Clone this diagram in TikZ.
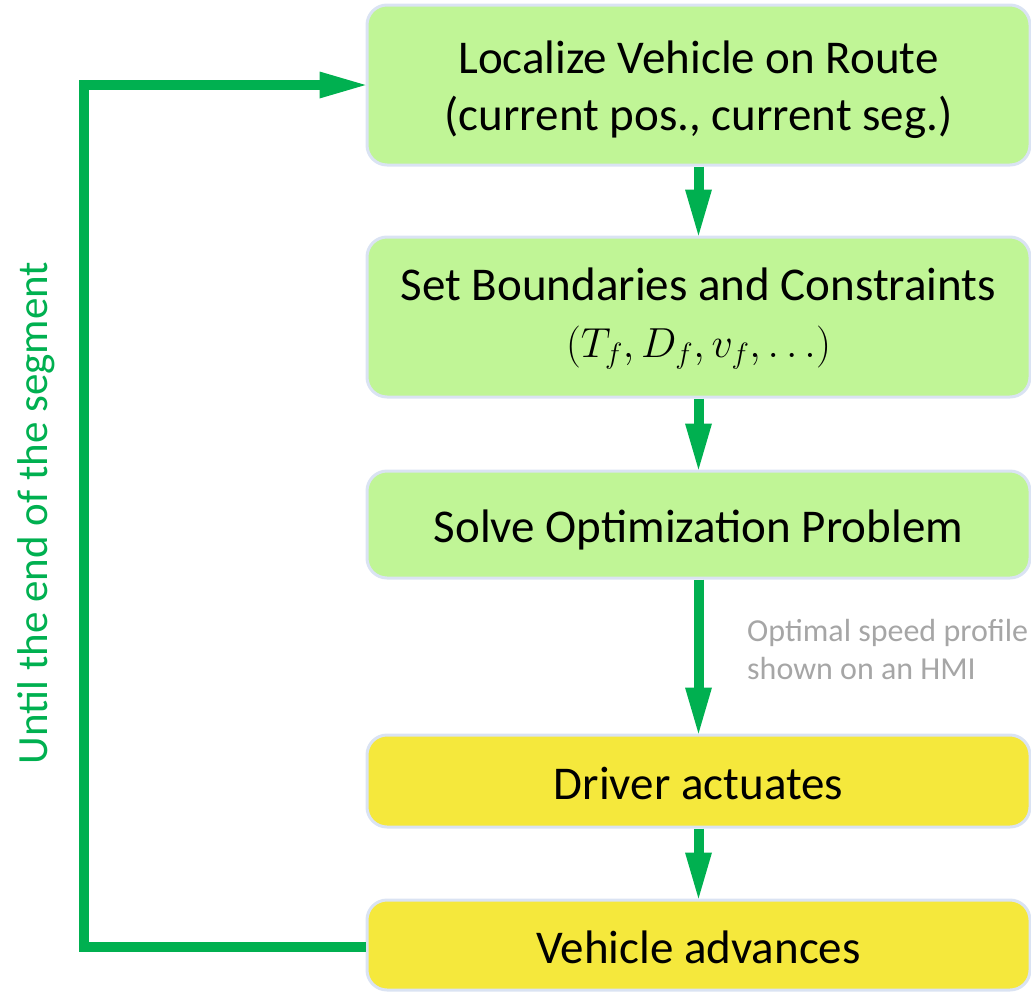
\RequirePackage{fix-cm}
\documentclass[tikz,border=0pt]{standalone}
\usepackage{fontspec}
\setmainfont{Carlito}
\usetikzlibrary{arrows.meta}

\definecolor{flowgreen}{RGB}{0,176,80}
\definecolor{boxgreen}{RGB}{192,245,150}
\definecolor{boxyellow}{RGB}{245,232,60}
\definecolor{boxedge}{RGB}{218,227,243}
\definecolor{notegray}{RGB}{166,166,166}

\tikzset{
  stage/.style={rectangle, rounded corners=20pt, draw=boxedge, line width=3pt,
    minimum width=663pt, inner sep=0pt, align=center, text=black,
    font=\fontsize{47}{57}\selectfont, text height=36pt, text depth=0pt},
  planbox/.style={stage, fill=boxgreen},
  actbox/.style={stage, fill=boxyellow},
  flow/.style={draw=flowgreen, line width=10pt,
    -{Triangle[width=27pt,length=46pt,line width=0pt]}},
  loopline/.style={draw=flowgreen, line width=10pt},
}

\begin{document}
\begin{tikzpicture}[x=1pt, y=-1pt]
\useasboundingbox (0,0) rectangle (1031,991);

% process stages (two-line boxes: text height reaches up to the first line)
\node[planbox, minimum height=160pt, text height=90pt] (loc) at (698.5,85)
  {Localize Vehicle on Route\\(current pos., current seg.)};
\node[planbox, minimum height=160pt, text height=80pt] (bnd) at (698.5,317)
  {Set Boundaries and Constraints\\{\fontsize{42}{57}\selectfont$(T_f, D_f, v_f, \ldots)$}};
\node[planbox, minimum height=107pt] (opt) at (698.5,524.5)
  {Solve Optimization Problem};
\node[actbox, minimum height=92pt] (drv) at (698.5,781)
  {Driver actuates};
\node[actbox, minimum height=90pt] (adv) at (698.5,945)
  {Vehicle advances};

% downward flow
\draw[flow] (loc.south) -- (bnd.north);
\draw[flow] (bnd.south) -- (opt.north);
\draw[flow] (opt.south) -- (drv.north);
\draw[flow] (drv.south) -- (adv.north);

% note beside the HMI arrow
\node[anchor=north west, inner sep=0pt, align=left, text=notegray,
  font=\fontsize{32}{38}\selectfont] (hmi) at (747,619)
  {Optimal speed profile\\shown on an HMI};

% feedback loop back to localization
\coordinate (loopbot) at (84,947);
\coordinate (looptop) at (84,85);
\draw[loopline] (adv.west |- loopbot) -- (loopbot) -- (looptop) -- ++(200,0);
\draw[flow] (looptop) -- (loc.west);

\node[rotate=90, anchor=base, inner sep=0pt, text=flowgreen,
  font=\fontsize{43}{50}\selectfont] (loopnote) at (47,513)
  {Until the end of the segment};
\end{tikzpicture}
\end{document}
